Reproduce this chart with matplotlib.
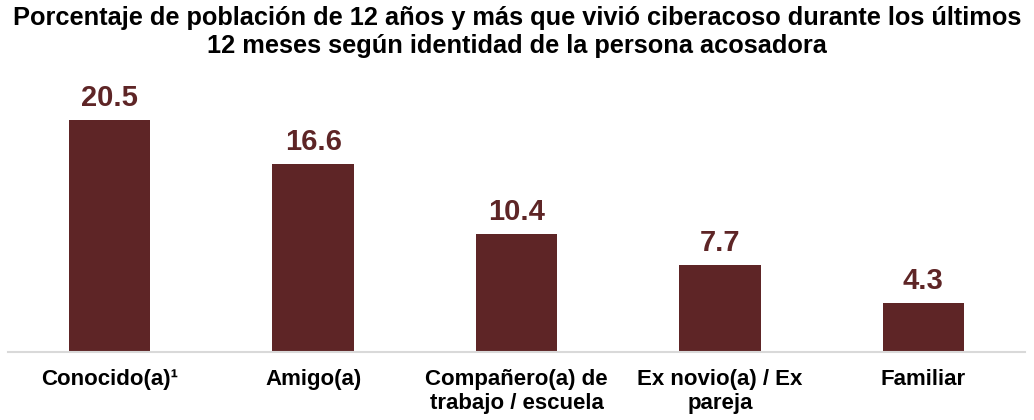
import matplotlib
matplotlib.use("Agg")
import matplotlib.pyplot as plt

categories = ["Conocido(a)\u00b9", "Amigo(a)", "Compañero(a) de\ntrabajo / escuela",
              "Ex novio(a) / Ex\npareja", "Familiar"]
values = [20.5, 16.6, 10.4, 7.7, 4.3]
title = ("Porcentaje de población de 12 años y más que vivió ciberacoso durante los últimos\n"
         "12 meses según identidad de la persona acosadora")

bar_color = "#5E2526"
fig = plt.figure(figsize=(10.34, 4.2), dpi=100)
ax = fig.add_axes([8/1034, 68/420, 1017/1034, 272/420])
x = list(range(len(categories)))
ax.bar(x, values, width=0.40, color=bar_color, zorder=2)
ax.set_xlim(-0.5, 4.5)
ax.set_ylim(0, 24.03)
for xi, v in zip(x, values):
    ax.annotate(f"{v:.1f}", (xi, v), xytext=(0, 6), textcoords="offset points",
                ha="center", va="bottom", fontsize=21, fontweight="bold",
                color=bar_color, family="Liberation Sans")
for s in ["top", "right", "left"]:
    ax.spines[s].set_visible(False)
ax.spines["bottom"].set_color("#D9D9D9")
ax.spines["bottom"].set_linewidth(1.5)
ax.set_yticks([])
ax.set_xticks(x)
ax.set_xticklabels(categories, fontsize=16, fontweight="bold", family="Liberation Sans",
                   linespacing=1.2)
ax.tick_params(axis="x", length=0, pad=12)
fig.text(0.5, 0.985, title, ha="center", va="top", fontsize=18.3, fontweight="bold",
         family="Liberation Sans", linespacing=1.2)
fig.savefig("out.png", dpi=100)
